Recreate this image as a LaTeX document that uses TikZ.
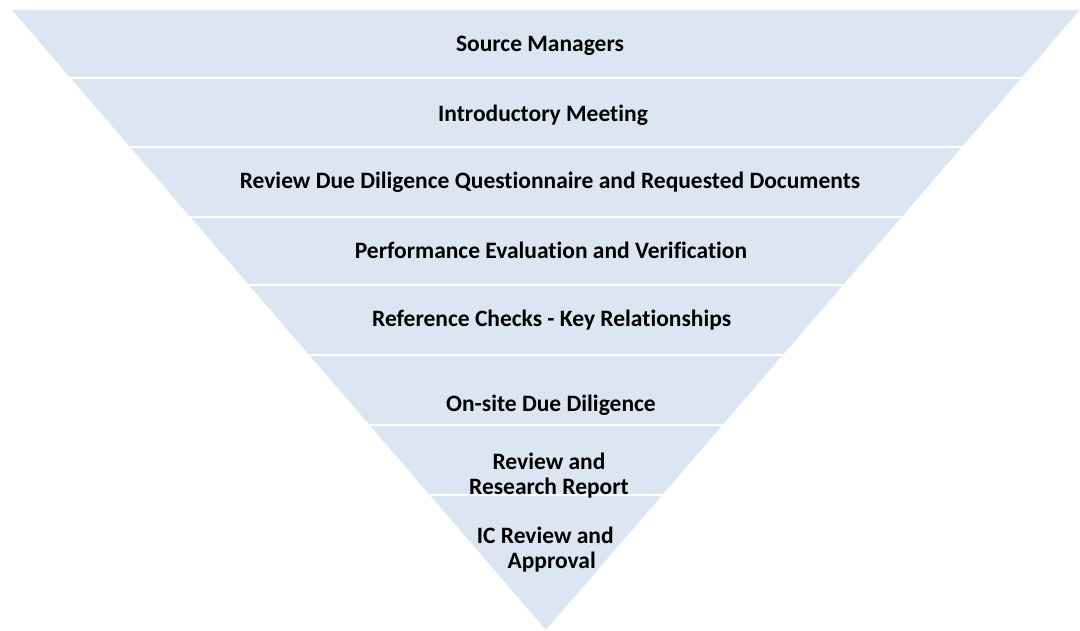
\documentclass[tikz,border=0pt]{standalone}
\usepackage{fontspec}
\setmainfont[Ligatures=CommonOff]{Carlito}
\begin{document}
\begin{tikzpicture}[x=1pt,y=-1pt,
  band/.style={fill=funnelblue},
  sep/.style={draw=white,line width=2.2pt},
  lbl/.style={font=\fontsize{23.5}{24.5}\selectfont\bfseries,text=black,align=center,inner sep=0pt,anchor=base}]
\definecolor{funnelblue}{HTML}{DCE6F2}
\useasboundingbox (0,0) rectangle (1080,631);
\fill[band] (12,10) -- (1080,10) -- (546,630) -- cycle;
\begin{scope}
\clip (12,10) -- (1080,10) -- (546,630) -- cycle;
\foreach \y in {78,147,217,285,355,425,495}{
  \draw[sep] (0,\y) -- (1080,\y);
}
\end{scope}
\node[lbl] (s1) at (540,51.7) {Source Managers};
\node[lbl] (s2) at (543,121.7) {Introductory Meeting};
\node[lbl] (s3) at (550,188.3) {Review Due Diligence Questionnaire and Requested Documents};
\node[lbl] (s4) at (551,259) {Performance Evaluation and Verification};
\node[lbl] (s5) at (551.7,326.7) {Reference Checks - Key Relationships};
\node[lbl] (s6) at (551,411) {On-site Due Diligence};
\node[lbl] (s7) at (549,494.3) {Review and\\Research Report};
\node[lbl] (s8) at (545.3,568.3) {IC Review and\\\hspace*{12.8pt}Approval};
\end{tikzpicture}
\end{document}
